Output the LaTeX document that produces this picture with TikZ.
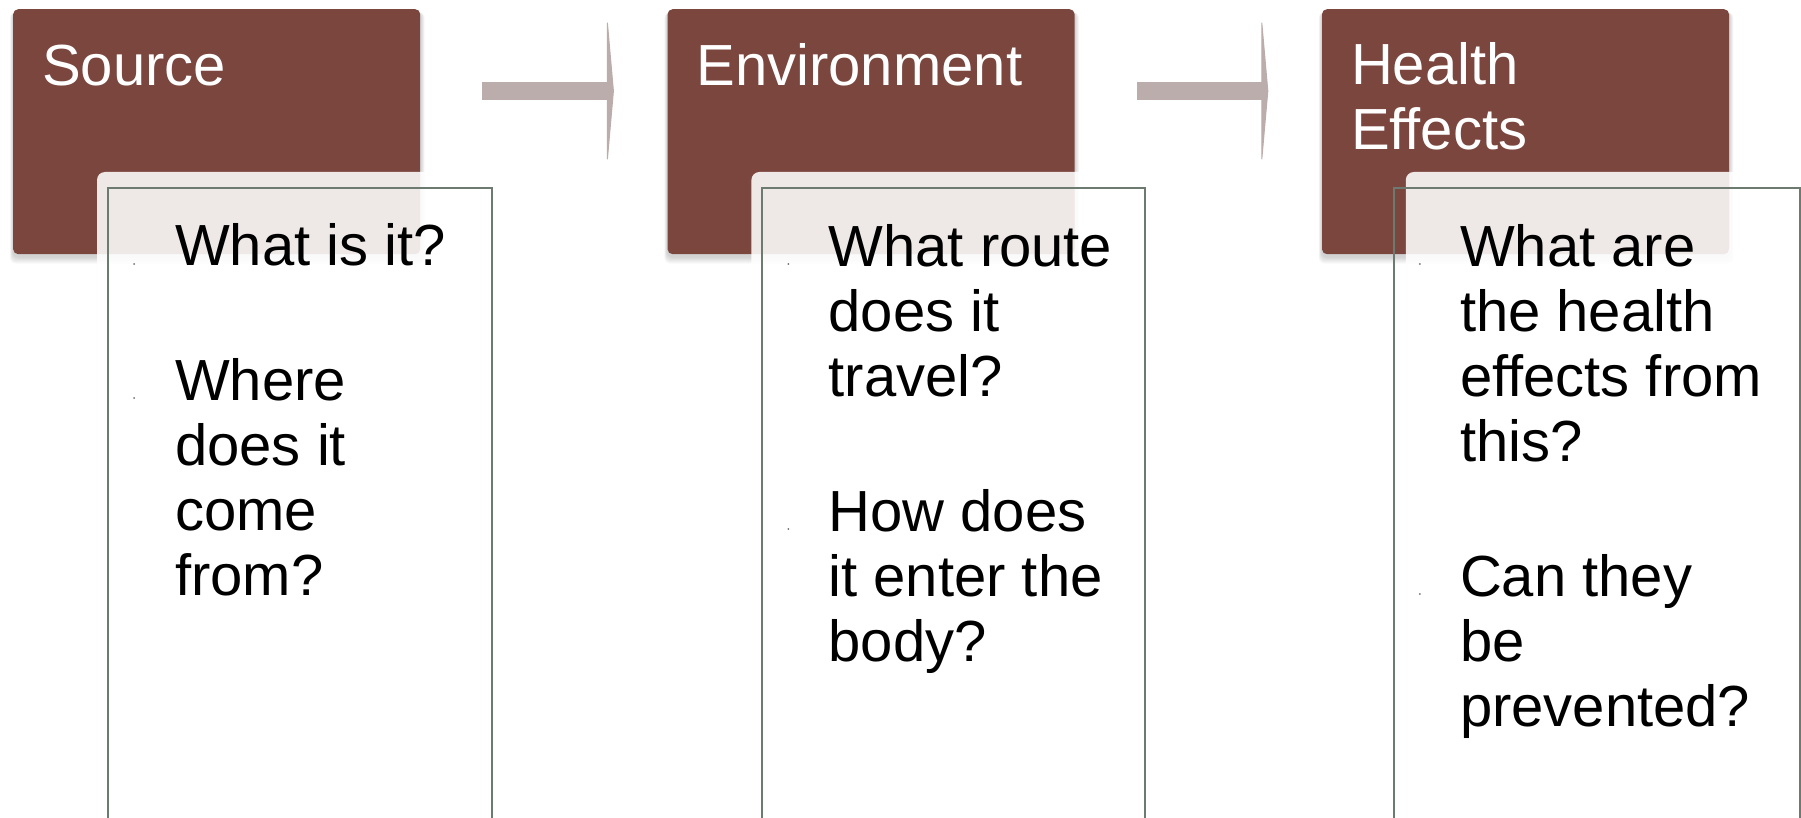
\documentclass[tikz,border=0pt]{standalone}
\usepackage{fontspec}
\setmainfont{Liberation Sans}
\usetikzlibrary{positioning,calc,backgrounds}

\definecolor{boxbrown}{RGB}{122,70,62}
\definecolor{framegray}{RGB}{108,122,112}
\definecolor{flowgray}{RGB}{187,173,171}
\definecolor{dotgray}{RGB}{110,110,110}

\tikzset{
  headbox/.style={fill=boxbrown, rounded corners=5pt, minimum width=407pt,
    minimum height=245pt, anchor=north west, inner sep=0pt},
  headtxt/.style={text=white, font=\fontsize{58}{65}\selectfont, align=left,
    anchor=base west, inner sep=0pt},
  veil/.style={fill=white, fill opacity=0.88, rounded corners=8pt},
  frame/.style={draw=framegray, line width=2pt, minimum height=700pt,
    anchor=north west, inner sep=0pt, outer sep=0pt},
  bodytxt/.style={font=\fontsize{58}{65}\selectfont, align=left,
    anchor=base west, inner sep=0pt},
  flow/.style={draw=flowgray, line width=18pt},
  flowhead/.style={fill=flowgray, draw=flowgray, line width=1pt, line join=round},
}

\begin{document}
\begin{tikzpicture}[x=1pt,y=-1pt]
  \useasboundingbox (0,0) rectangle (1801,818);
  \clip (0,0) rectangle (1801,818);

  % the three stages
  \node[headbox] (src) at (13,9) {};
  \node[headbox, right=247pt of src] (env) {};
  \node[headbox, right=247pt of env] (hlth) {};

  % base anchor sits on the last line
  \node[headtxt] (srch) at ($(src.north west)+(29,77)$) {Source};
  \node[headtxt] (envh) at ($(env.north west)+(29,77)$) {Environment};
  \node[headtxt] (hlthh) at ($(hlth.north west)+(29,141)$) {Health\\Effects};

  % soft shadows
  \begin{scope}[on background layer]
    \foreach \b in {src,env,hlth}
      \foreach \k in {1,...,6}
        \fill[black, opacity=0.03, rounded corners=6pt]
          ($(\b.north west)+(-\k*0.5,3)$) rectangle ($(\b.south east)+(\k*0.7,2+\k*1.2)$);
  \end{scope}

  % arrows between stages
  \foreach \a/\b in {src/env, env/hlth} {
    \coordinate (\a-out) at ($(\a.north east)+(62,82)$);
    \coordinate (\a-tip) at ($(\b.north west)+(-54,82)$);
    \draw[flow] (\a-out) -- ($(\a-tip)+(-6,0)$);
    \filldraw[flowhead] (\a-tip) -- ++(-6,-68) -- ++(0,136) -- cycle;
  }

  % question panels
  \foreach \b in {src,env,hlth}
    \fill[veil] ($(\b.north west)+(84,163)$) rectangle ($(\b.south east)+(60,620)$);

  \node[frame, minimum width=384pt] (srcf) at ($(src.north west)+(95,179)$) {};
  \node[frame, minimum width=383pt] (envf) at ($(env.north west)+(95,179)$) {};
  \node[frame, minimum width=406pt] (hlthf) at ($(hlth.north west)+(72,179)$) {};

  \node[bodytxt] (srcq) at ($(srcf.north west)+(67,407)$)
    {What is it?\\[70pt]Where\\does it\\come\\from?};
  \node[bodytxt] (envq) at ($(envf.north west)+(66,473)$)
    {What route\\does it\\travel?\\[70pt]How does\\it enter the\\body?};
  \node[bodytxt] (hlthq) at ($(hlthf.north west)+(66,538)$)
    {What are\\the health\\effects from\\this?\\[70pt]Can they\\be\\prevented?};

  % tiny bullets
  \foreach \f/\d in {srcf/134, envf/265, hlthf/330} {
    \fill[dotgray] ($(\f.north west)+(26,76)$) circle (1pt);
    \fill[dotgray] ($(\f.north west)+(26,76+\d)$) circle (1pt);
  }
\end{tikzpicture}
\end{document}
